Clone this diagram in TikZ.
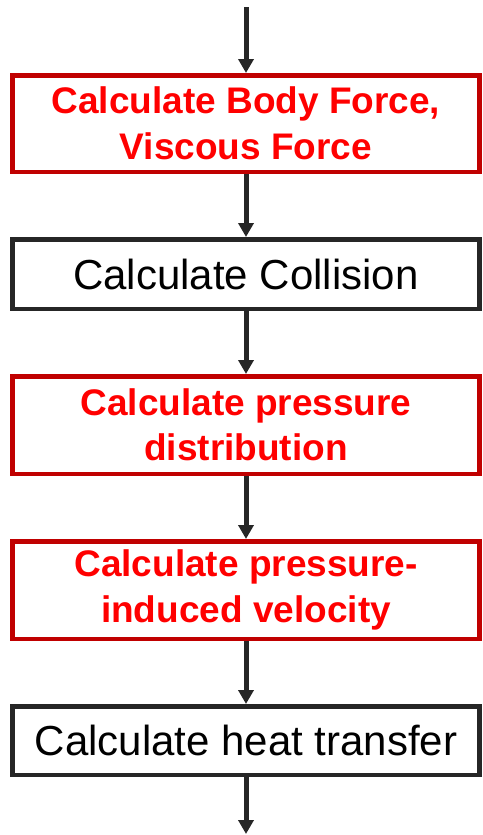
\documentclass[tikz,border=0pt]{standalone}
\usepackage{fontspec}
\setmainfont{Liberation Sans}
\usetikzlibrary{arrows.meta}
\definecolor{boxred}{HTML}{C00000}
\definecolor{txtred}{HTML}{FF0000}
\definecolor{darkline}{HTML}{262626}

\begin{document}
\begin{tikzpicture}[x=1pt,y=-1pt,
  stepred/.style={draw=boxred,line width=4.5pt,fill=white,minimum width=467pt,inner sep=0pt,align=center,text=txtred,font=\fontsize{37}{45.5}\selectfont\bfseries},
  stepblk/.style={draw=darkline,line width=4.5pt,fill=white,minimum width=467pt,inner sep=0pt,align=center,text=black,font=\fontsize{42}{50}\selectfont},
  flow/.style={-{Triangle[length=14pt,width=15pt]},line width=5pt,draw=darkline}]
\useasboundingbox (0,0) rectangle (482,835);
\node[stepred,minimum height=96.5pt] (n1) at (246,123.5) {Calculate Body Force,\\Viscous Force};
\node[stepblk,minimum height=69.5pt] (n2) at (246,274) {Calculate Collision};
\node[stepred,minimum height=97.5pt] (n3) at (246,425) {Calculate pressure\\distribution};
\node[stepred,minimum height=97.5pt] (n4) at (246,590) {Calculate pressure-\\induced velocity};
\node[stepblk,minimum height=68.5pt] (n5) at (246,740.5) {Calculate heat transfer};
\coordinate (src) at (246,7);
\coordinate (sink) at (246,834);
\draw[flow] (src) -- (n1.north);
\draw[flow] (n1.south) -- (n2.north);
\draw[flow] (n2.south) -- (n3.north);
\draw[flow] (n3.south) -- (n4.north);
\draw[flow] (n4.south) -- (n5.north);
\draw[flow] (n5.south) -- (sink);
\end{tikzpicture}
\end{document}
